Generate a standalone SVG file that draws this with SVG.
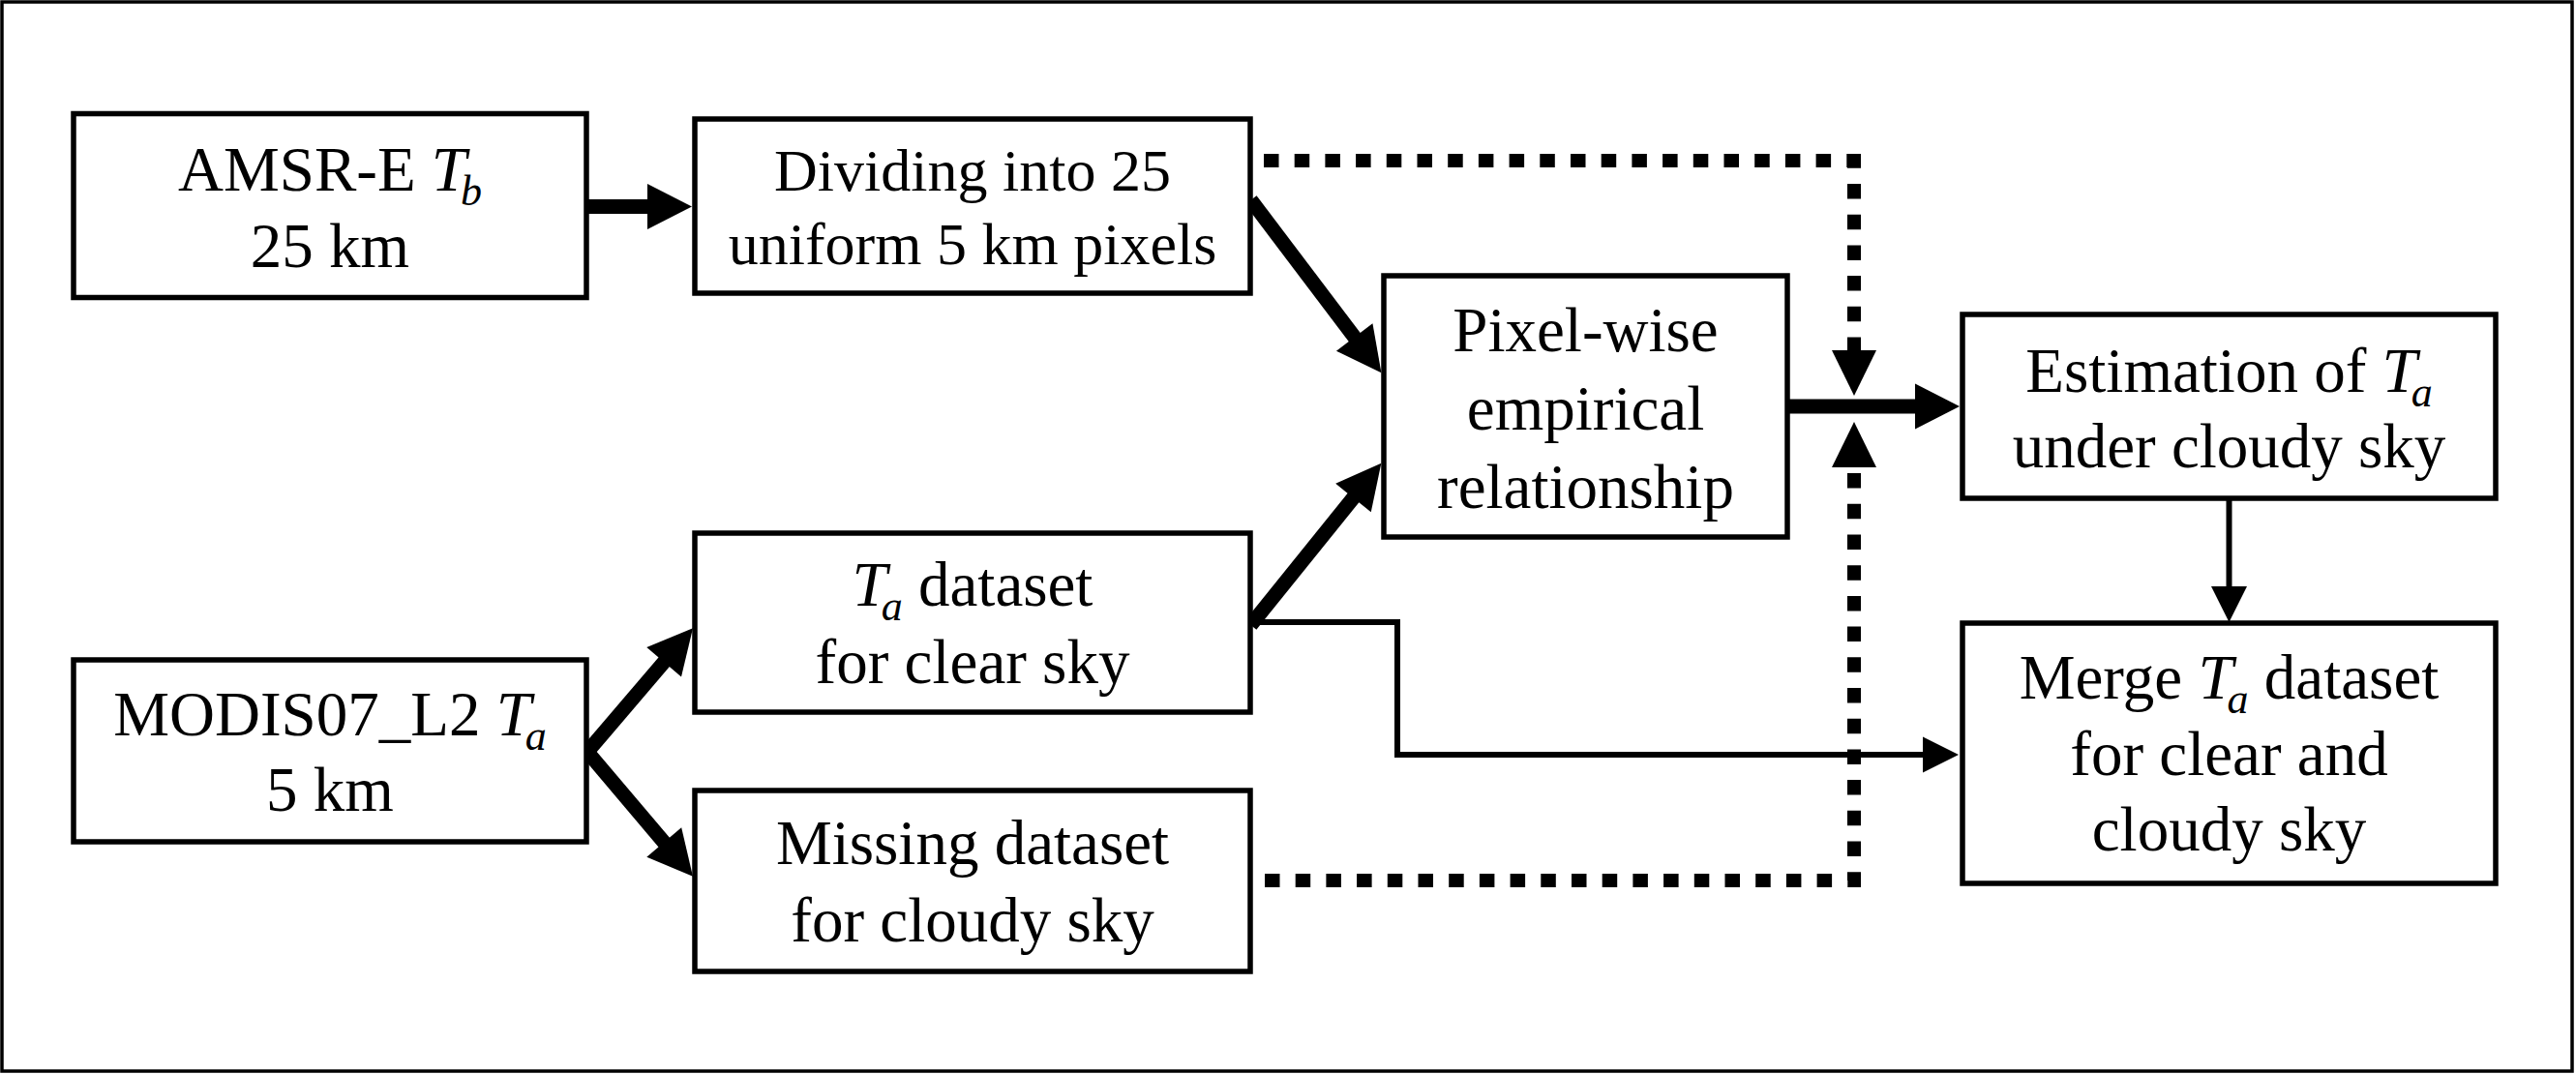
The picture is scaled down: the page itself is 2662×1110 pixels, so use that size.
<svg xmlns="http://www.w3.org/2000/svg" width="2662" height="1110" viewBox="0 0 2662 1110">
<style>
.box{fill:#fff;stroke:#000;stroke-width:5.5}
.t{font-family:"Liberation Serif","Times New Roman",serif;font-size:65px;text-anchor:middle;fill:#000}
.s62{font-size:62px}
.i{font-style:italic}
.sub{font-style:italic;font-size:44px}
.thick{stroke:#000;stroke-width:15;fill:none}
.thin{stroke:#000;stroke-width:6;fill:none}
.dash{stroke:#000;stroke-width:14;fill:none;stroke-dasharray:15.5 16.2;stroke-linejoin:miter}
</style>
<defs>
<marker id="big" markerUnits="userSpaceOnUse" markerWidth="46" markerHeight="47" refX="1" refY="23.5" orient="auto" overflow="visible"><path d="M0,0 L46,23.5 L0,47 z" fill="#000"/></marker>
<marker id="dhead" markerUnits="userSpaceOnUse" markerWidth="47" markerHeight="46" refX="1" refY="23" orient="auto" overflow="visible"><path d="M0,0 L47,23 L0,46 z" fill="#000"/></marker>
<marker id="small" markerUnits="userSpaceOnUse" markerWidth="37" markerHeight="37" refX="1" refY="18.5" orient="auto" overflow="visible"><path d="M0,0 L37,18.5 L0,37 z" fill="#000"/></marker>
</defs>
<rect x="0" y="0" width="2662" height="1110" fill="#fff"/>
<rect x="2" y="2" width="2656" height="1105" fill="none" stroke="#000" stroke-width="3.5"/>
<g id="connectors">
<path class="thick" d="M606,213.5 H670" marker-end="url(#big)"/>
<path class="thick" d="M1292.6,206.8 L1400.3,349.3" marker-end="url(#big)"/>
<path class="thick" d="M1292.5,646 L1399.1,513.8" marker-end="url(#big)"/>
<path class="thick" d="M607,777 L686.8,683.5" marker-end="url(#big)"/>
<path class="thick" d="M607,777 L686.9,871.3" marker-end="url(#big)"/>
<path class="thick" d="M1847,420 H1980" marker-end="url(#big)"/>
<path class="dash" d="M1306,166 H1916 V363" marker-end="url(#dhead)"/>
<path class="dash" d="M1307,910 H1916 V482" marker-end="url(#dhead)"/>
<path class="thin" d="M1292,643 H1444 V780 H1988" marker-end="url(#small)"/>
<path class="thin" d="M2303.5,515 V607" marker-end="url(#small)"/>
</g>
<g id="amsr">
<rect class="box" x="76" y="117.5" width="530" height="190"/>
<text class="t" x="341" y="197">AMSR-E <tspan class="i">T</tspan><tspan class="sub" dx="-6" dy="15">b</tspan></text>
<text class="t" x="341" y="276">25 km</text>
</g>
<g id="dividing">
<rect class="box" x="718" y="123" width="574" height="180"/>
<text class="t s62" x="1005" y="197">Dividing into 25</text>
<text class="t s62" x="1005" y="272.5">uniform 5 km pixels</text>
</g>
<g id="clear">
<rect class="box" x="718" y="551" width="574" height="185"/>
<text class="t" x="1005" y="626"><tspan class="i">T</tspan><tspan class="sub" dx="-6" dy="15">a</tspan><tspan dy="-15"> dataset</tspan></text>
<text class="t" x="1005" y="706">for clear sky</text>
</g>
<g id="modis">
<rect class="box" x="76" y="682" width="530" height="188"/>
<text class="t" x="341" y="760">MODIS07_L2 <tspan class="i">T</tspan><tspan class="sub" dx="-6" dy="15">a</tspan></text>
<text class="t" x="341" y="838">5 km</text>
</g>
<g id="missing">
<rect class="box" x="718" y="817" width="574" height="187"/>
<text class="t" x="1005" y="893">Missing dataset</text>
<text class="t" x="1005" y="973">for cloudy sky</text>
</g>
<g id="pixelwise">
<rect class="box" x="1430" y="285" width="417" height="270"/>
<text class="t" x="1638.5" y="363">Pixel-wise</text>
<text class="t" x="1638.5" y="444">empirical</text>
<text class="t" x="1638.5" y="524.5">relationship</text>
</g>
<g id="estimation">
<rect class="box" x="2028" y="325" width="551" height="190"/>
<text class="t" x="2303.5" y="405">Estimation of <tspan class="i">T</tspan><tspan class="sub" dx="-6" dy="15">a</tspan></text>
<text class="t" x="2303.5" y="483">under cloudy sky</text>
</g>
<g id="merge">
<rect class="box" x="2028" y="644" width="551" height="269"/>
<text class="t" x="2303.5" y="722">Merge <tspan class="i">T</tspan><tspan class="sub" dx="-6" dy="15">a</tspan><tspan dy="-15"> dataset</tspan></text>
<text class="t" x="2303.5" y="801">for clear and</text>
<text class="t" x="2303.5" y="879">cloudy sky</text>
</g>
</svg>
